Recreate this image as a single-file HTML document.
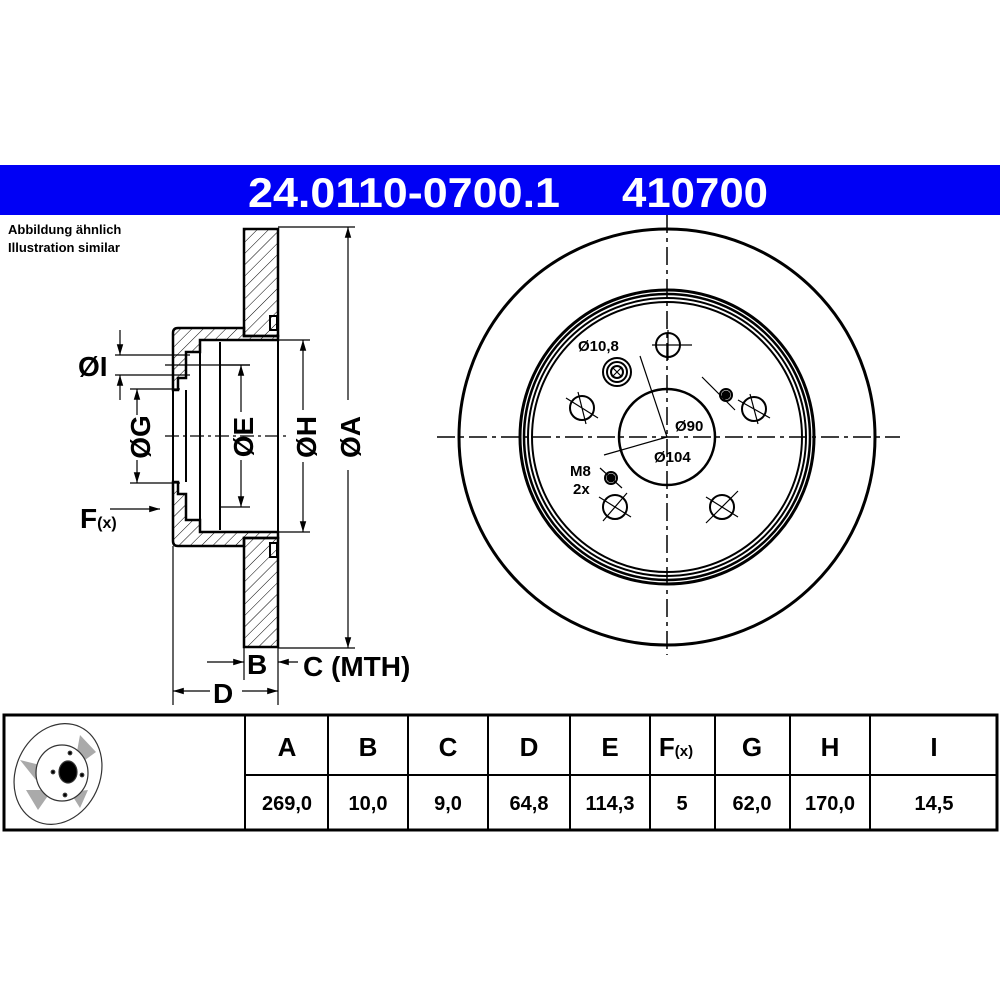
<!DOCTYPE html>
<html><head><meta charset="utf-8"><style>
body{margin:0;background:#fff;}
svg{display:block;font-family:"Liberation Sans",sans-serif;}
</style></head><body>
<svg width="1000" height="1000" viewBox="0 0 1000 1000">
<defs>
<pattern id="h" width="8" height="8" patternUnits="userSpaceOnUse" patternTransform="rotate(45)">
<line x1="0" y1="0" x2="0" y2="8" stroke="#000" stroke-width="1"/></pattern>
<marker id="a" viewBox="0 0 10 10" refX="10" refY="5" markerWidth="9" markerHeight="9" orient="auto-start-reverse"><path d="M0,2 L10,5 L0,8z" fill="#000"/></marker>
</defs>
<rect x="0" y="165" width="1000" height="50" fill="#0000f5"/>
<text x="248" y="207" font-size="42" font-weight="bold" fill="#fff" textLength="312" lengthAdjust="spacingAndGlyphs">24.0110-0700.1</text>
<text x="622" y="207" font-size="42" font-weight="bold" fill="#fff" textLength="146" lengthAdjust="spacingAndGlyphs">410700</text>
<text x="8" y="234" font-size="13" font-weight="bold">Abbildung ähnlich</text>
<text x="8" y="252" font-size="13" font-weight="bold">Illustration similar</text>

<!-- side section -->
<g stroke="#000" stroke-width="2.5" fill="url(#h)">
<path d="M244,229 H278 V336 H244 Z" />
<path d="M244,538 H278 V647 H244 Z" />
<path d="M244,328 V336 H278 V340 H200 V352 H186 V378 H178 V390 H173 V333 Q173,328 178,328 Z"/>
<path d="M244,546 V538 H278 V532 H200 V520 H186 V494 H178 V482 H173 V541 Q173,546 178,546 Z"/>
</g>
<g stroke="#000" stroke-width="2" fill="none">
<path d="M200,340 V532 M220,342 V530 M278,336 V538 M186,390 V482"/>
<rect x="270" y="316" width="7" height="14"/><rect x="270" y="543" width="7" height="14"/>
<path d="M173,390 V482"/>
</g>
<g stroke="#000" stroke-width="1.2" fill="none">
<line x1="165" y1="436" x2="290" y2="436" stroke-dasharray="14,4,3,4"/>
<line x1="115" y1="355" x2="190" y2="355"/><line x1="115" y1="375" x2="190" y2="375"/>
<line x1="165" y1="365" x2="250" y2="365"/>
<line x1="130" y1="389" x2="180" y2="389"/><line x1="130" y1="483" x2="180" y2="483"/>
<line x1="220" y1="365" x2="250" y2="365"/><line x1="220" y1="507" x2="250" y2="507"/>
<line x1="278" y1="340" x2="310" y2="340"/><line x1="278" y1="532" x2="310" y2="532"/>
<line x1="278" y1="227" x2="355" y2="227"/><line x1="278" y1="648" x2="355" y2="648"/>
<line x1="173" y1="546" x2="173" y2="705"/><line x1="244" y1="647" x2="244" y2="680"/><line x1="278" y1="647" x2="278" y2="705"/>
<line x1="120" y1="330" x2="120" y2="355" marker-end="url(#a)"/><line x1="120" y1="400" x2="120" y2="375" marker-end="url(#a)"/>
<line x1="137" y1="415" x2="137" y2="389" marker-end="url(#a)"/><line x1="137" y1="460" x2="137" y2="483" marker-end="url(#a)"/>
<line x1="241" y1="412" x2="241" y2="365" marker-end="url(#a)"/><line x1="241" y1="460" x2="241" y2="507" marker-end="url(#a)"/>
<line x1="303" y1="410" x2="303" y2="340" marker-end="url(#a)"/><line x1="303" y1="462" x2="303" y2="532" marker-end="url(#a)"/>
<line x1="348" y1="400" x2="348" y2="227" marker-end="url(#a)"/><line x1="348" y1="470" x2="348" y2="648" marker-end="url(#a)"/>
<line x1="110" y1="509" x2="160" y2="509" marker-end="url(#a)"/>
<line x1="207" y1="662" x2="244" y2="662" marker-end="url(#a)"/><line x1="298" y1="662" x2="278" y2="662" marker-end="url(#a)"/>
<line x1="210" y1="691" x2="173" y2="691" marker-end="url(#a)"/><line x1="242" y1="691" x2="278" y2="691" marker-end="url(#a)"/>
</g>
<g font-weight="bold" font-size="28">
<text x="78" y="376">ØI</text>
<text transform="translate(150,437) rotate(-90)" text-anchor="middle">ØG</text>
<text transform="translate(253,437) rotate(-90)" text-anchor="middle">ØE</text>
<text transform="translate(316,437) rotate(-90)" text-anchor="middle">ØH</text>
<text transform="translate(360,437) rotate(-90)" text-anchor="middle">ØA</text>
<text x="80" y="528">F<tspan font-size="16">(x)</tspan></text>
<text x="247" y="674">B</text>
<text x="303" y="676">C (MTH)</text>
<text x="213" y="703">D</text>
</g>

<!-- front view -->
<g stroke="#000" fill="none">
<circle cx="667" cy="437" r="208" stroke-width="3"/>
<circle cx="667" cy="437" r="147" stroke-width="3"/>
<circle cx="667" cy="437" r="143" stroke-width="2.5"/>
<circle cx="667" cy="437" r="139" stroke-width="2"/>
<circle cx="667" cy="437" r="135" stroke-width="2"/>
<circle cx="667" cy="437" r="48" stroke-width="2.5"/>
<line x1="437" y1="437" x2="900" y2="437" stroke-width="1.5" stroke-dasharray="18,5,4,5"/>
<line x1="667" y1="215" x2="667" y2="655" stroke-width="1.5" stroke-dasharray="18,5,4,5"/>
<g stroke-width="2">
<circle cx="668" cy="345" r="12"/><circle cx="582" cy="408" r="12"/><circle cx="754" cy="409" r="12"/>
<circle cx="615" cy="507" r="12"/><circle cx="722" cy="507" r="12"/>
<circle cx="617" cy="372" r="14"/><circle cx="617" cy="372" r="10"/><circle cx="617" cy="372" r="6"/>
<circle cx="726" cy="395" r="6"/><circle cx="611" cy="478" r="6"/>
</g>
<g stroke-width="1.2">
<path d="M652,345 H692 M668,330 V360 M566,398 L598,418 M578,392 L586,424 M738,400 L770,418 M750,394 L758,424 M599,497 L631,517 M627,493 L603,521 M706,497 L738,517 M738,491 L706,523 M612,367 L622,377 M622,367 L612,377"/>
<path d="M667,437 L644,368 M667,437 L604,455 M705,380 L735,410 M600,468 L622,488 M644,368 L640,356 M705,380 L702,377"/>
</g>
<circle cx="726" cy="395" r="4" fill="#000"/><circle cx="611" cy="478" r="4" fill="#000"/>
</g>
<g font-weight="bold" font-size="15">
<text x="578" y="351">Ø10,8</text>
<text x="675" y="431">Ø90</text>
<text x="654" y="462">Ø104</text>
<text x="570" y="476">M8</text>
<text x="573" y="494">2x</text>
</g>

<!-- table -->
<g stroke="#000" fill="none">
<rect x="4" y="715" width="993" height="115" stroke-width="3"/>
<line x1="245" y1="715" x2="245" y2="830" stroke-width="2"/>
<line x1="245" y1="775" x2="997" y2="775" stroke-width="2"/>
<path d="M328,715V830 M408,715V830 M488,715V830 M570,715V830 M650,715V830 M715,715V830 M790,715V830 M870,715V830" stroke-width="2"/>
</g>
<g font-weight="bold" text-anchor="middle">
<g font-size="26">
<text x="287" y="756">A</text><text x="368" y="756">B</text><text x="448" y="756">C</text><text x="529" y="756">D</text><text x="610" y="756">E</text>
<text x="676" y="756">F<tspan font-size="15">(x)</tspan></text><text x="752" y="756">G</text><text x="830" y="756">H</text><text x="934" y="756">I</text>
</g>
<g font-size="20">
<text x="287" y="810">269,0</text><text x="368" y="810">10,0</text><text x="448" y="810">9,0</text><text x="529" y="810">64,8</text><text x="610" y="810">114,3</text>
<text x="682" y="810">5</text><text x="752" y="810">62,0</text><text x="830" y="810">170,0</text><text x="934" y="810">14,5</text>
</g>
</g>
<!-- thumbnail -->
<g stroke="#333" stroke-width="1.2">
<ellipse cx="58" cy="774" rx="42" ry="52" transform="rotate(25 58 774)" fill="#fff"/>
<path d="M80,735 L96,752 L74,768Z M26,790 L38,810 L52,790Z M20,760 L40,765 L36,780Z M88,790 L80,808 L70,792Z" fill="#aaa" stroke="none"/>
<ellipse cx="62" cy="773" rx="26" ry="28" fill="#fff"/>
<ellipse cx="68" cy="772" rx="9" ry="11" fill="#000"/>
<circle cx="70" cy="753" r="1.8" fill="#000"/><circle cx="82" cy="775" r="1.8" fill="#000"/><circle cx="65" cy="795" r="1.8" fill="#000"/><circle cx="53" cy="772" r="1.8" fill="#000"/>
</g>
</svg>
</body></html>
